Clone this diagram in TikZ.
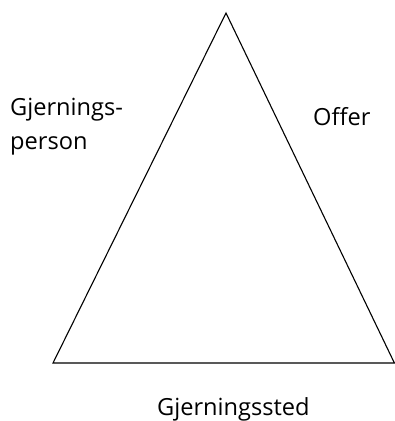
\documentclass[tikz,border=0pt]{standalone}
\usepackage{fontspec}
\setmainfont{Open Sans}
\usetikzlibrary{positioning}

\tikzset{
  label text/.style={inner sep=0pt, anchor=base west, font=\fontsize{23.6}{34}\selectfont, align=left},
  side/.style={line width=1.1pt, line join=miter}
}

\begin{document}
\begin{tikzpicture}[x=1pt, y=-1pt]
          \useasboundingbox (0,0) rectangle (395,421);

          \coordinate (top) at (226,13);
          \coordinate (left) at (53,363);
          \coordinate (right) at (394.4,363);

          \draw[side] (top) -- (left) -- (right) -- cycle;

          \node[label text] (perp) at (10,149) {Gjernings-\\person};
          \node[label text] (victim) at (313,125) {Offer};
          \node[label text] (place) at (157,415) {Gjerningssted};
        \end{tikzpicture}
\end{document}
